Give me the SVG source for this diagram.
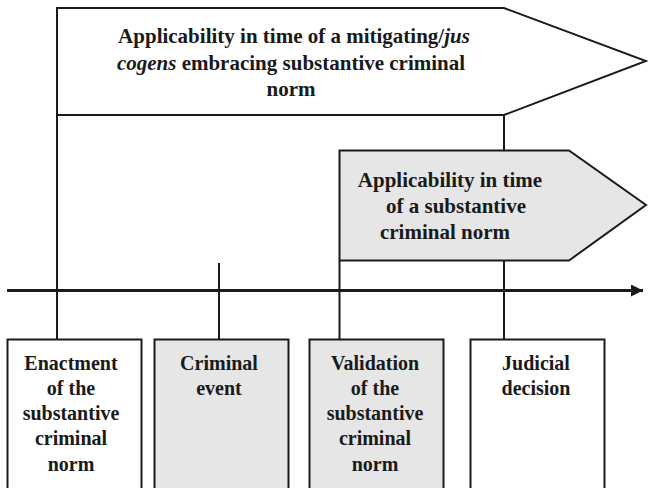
<svg xmlns="http://www.w3.org/2000/svg" width="648" height="488" viewBox="0 0 648 488">
<defs>
<style>
.t{font-family:"Liberation Serif","Times New Roman",serif;font-weight:bold;font-size:20px;fill:#1a1a1a;text-anchor:middle}
.a{font-size:21px}
.s{stroke:#1a1a1a;stroke-width:2;fill:none}
.box{stroke:#1a1a1a;stroke-width:2}
</style>
<marker id="ah" markerWidth="12" markerHeight="12" refX="12" refY="6" orient="auto" markerUnits="userSpaceOnUse">
<path d="M0,0 L12,6 L0,12 Z" fill="#1a1a1a"/>
</marker>
</defs>
<rect width="648" height="488" fill="#fff"/>
<g id="connectors">
<line class="s" x1="57" y1="115" x2="57" y2="339"/>
<line class="s" x1="504" y1="115" x2="504" y2="150"/>
<line class="s" x1="504" y1="261" x2="504" y2="339"/>
<line class="s" x1="339.5" y1="261" x2="339.5" y2="339"/>
<line class="s" x1="219" y1="263" x2="219" y2="339"/>
<line x1="7" y1="290.5" x2="643" y2="290.5" stroke="#1a1a1a" stroke-width="3" marker-end="url(#ah)"/>
</g>
<g id="mitigating">
<path class="box" fill="#fff" d="M57,8 L504,8 L646,61 L504,115 L57,115 Z"/>
<text class="t a" x="294" y="43">Applicability in time of a mitigating/<tspan font-style="italic">jus</tspan></text>
<text class="t a" x="291" y="70"><tspan font-style="italic">cogens</tspan> embracing substantive criminal</text>
<text class="t a" x="291" y="96">norm</text>
</g>
<g id="substantive">
<path class="box" fill="#e6e6e6" d="M339.5,150.5 L569,150.5 L646,205 L569,260.5 L339.5,260.5 Z"/>
<text class="t a" x="450" y="187">Applicability in time</text>
<text class="t a" x="456" y="213">of a substantive</text>
<text class="t a" x="445" y="239">criminal norm</text>
</g>
<g id="enactment">
<rect class="box" x="7.5" y="339.5" width="134" height="152" fill="#fff"/>
<text class="t" x="71" y="370">Enactment</text>
<text class="t" x="71" y="395">of the</text>
<text class="t" x="71" y="420">substantive</text>
<text class="t" x="71" y="445">criminal</text>
<text class="t" x="71" y="471">norm</text>
</g>
<g id="event">
<rect class="box" x="154.5" y="339.5" width="134" height="152" fill="#e6e6e6"/>
<text class="t" x="219" y="370">Criminal</text>
<text class="t" x="219" y="395">event</text>
</g>
<g id="validation">
<rect class="box" x="309.5" y="339.5" width="134" height="152" fill="#e6e6e6"/>
<text class="t" x="375" y="370">Validation</text>
<text class="t" x="375" y="395">of the</text>
<text class="t" x="375" y="420">substantive</text>
<text class="t" x="375" y="445">criminal</text>
<text class="t" x="375" y="471">norm</text>
</g>
<g id="judicial">
<rect class="box" x="470.5" y="339.5" width="134" height="152" fill="#fff"/>
<text class="t" x="536" y="370">Judicial</text>
<text class="t" x="536" y="395">decision</text>
</g>
</svg>
